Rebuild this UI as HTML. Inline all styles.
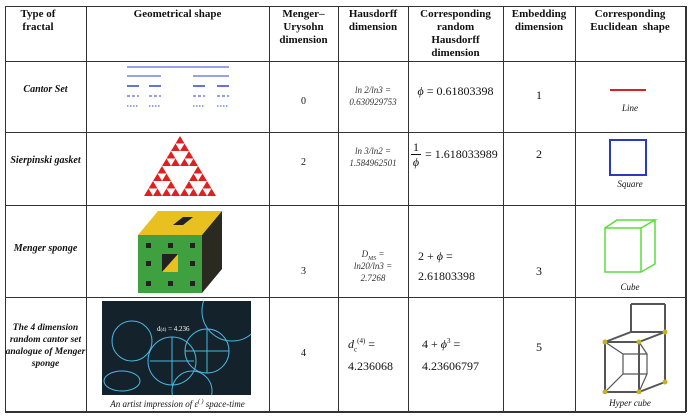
<!DOCTYPE html>
<html><head><meta charset="utf-8"><style>
body{margin:0;width:690px;height:417px;background:#fff;position:relative;overflow:hidden;font-family:"Liberation Serif",serif;color:#111}
.v{position:absolute;width:1px;background:#333;top:6px;height:406px}
.h{position:absolute;height:1px;background:#333;left:5px;width:681px}
.t{position:absolute;text-align:center;font-size:11px;line-height:13px}
.b{font-weight:bold}
.i{font-style:italic}
sub,sup{line-height:0}
</style></head><body>
<div class="h" style="top:6px"></div><div class="h" style="top:61px"></div><div class="h" style="top:132px"></div><div class="h" style="top:205px"></div><div class="h" style="top:297px"></div><div class="h" style="top:411px;height:2px"></div>
<div class="v" style="left:5px"></div><div class="v" style="left:86px"></div><div class="v" style="left:269px"></div><div class="v" style="left:338px"></div><div class="v" style="left:408px"></div><div class="v" style="left:503px"></div><div class="v" style="left:575px"></div><div class="v" style="left:685px;width:2px"></div>

<div class="t b" style="left:5px;top:8px;width:66px">Type of<br>fractal</div>
<div class="t b" style="left:86px;top:8px;width:183px">Geometrical shape</div>
<div class="t b" style="left:269px;top:8px;width:69px">Menger–<br>Urysohn<br>dimension</div>
<div class="t b" style="left:338px;top:8px;width:70px">Hausdorff<br>dimension</div>
<div class="t b" style="left:408px;top:8px;width:95px">Corresponding<br>random<br>Hausdorff<br>dimension</div>
<div class="t b" style="left:503px;top:8px;width:72px">Embedding<br>dimension</div>
<div class="t b" style="left:575px;top:8px;width:110px">Corresponding<br>Euclidean&nbsp; shape</div>

<!-- Cantor -->
<div class="t b i" style="left:5px;top:83px;width:81px;font-size:10px">Cantor Set</div>
<svg style="position:absolute;left:125px;top:64px" width="110" height="46">
<g stroke="#3344cc"><line x1="2" y1="3" x2="104" y2="3" stroke-width="1"/>
<line x1="2" y1="12" x2="36" y2="12"/><line x1="68" y1="12" x2="104" y2="12"/>
<g stroke-width="1.5"><line x1="2" y1="22" x2="14" y2="22"/><line x1="24" y1="22" x2="36" y2="22"/><line x1="68" y1="22" x2="80" y2="22"/><line x1="92" y1="22" x2="104" y2="22"/></g>
<g stroke-dasharray="3,2"><line x1="2" y1="32" x2="14" y2="32"/><line x1="24" y1="32" x2="36" y2="32"/><line x1="68" y1="32" x2="80" y2="32"/><line x1="92" y1="32" x2="104" y2="32"/></g>
<g stroke-dasharray="1.5,1.5"><line x1="2" y1="42" x2="14" y2="42"/><line x1="24" y1="42" x2="36" y2="42"/><line x1="68" y1="42" x2="80" y2="42"/><line x1="92" y1="42" x2="104" y2="42"/></g></g></svg>
<div class="t" style="left:269px;top:95px;width:69px;font-size:10px">0</div>
<div class="t i" style="left:338px;top:84px;width:70px;font-size:9px;line-height:12px;color:#333">ln 2/ln3 =<br>0.630929753</div>
<div class="t" style="left:408px;top:85px;width:95px;font-size:12px"><i>ϕ</i> = 0.61803398</div>
<div class="t" style="left:503px;top:89px;width:72px;font-size:12px">1</div>
<div style="position:absolute;left:610px;top:89px;width:36px;height:2px;background:#e02020"></div>
<div class="t i" style="left:575px;top:102px;width:110px;font-size:9px">Line</div>

<!-- Sierpinski -->
<div class="t b i" style="left:5px;top:154px;width:81px;font-size:10px">Sierpinski gasket</div>
<svg style="position:absolute;left:144px;top:136px" width="72" height="60">
<defs><polygon id="s" points="4.5,0 9,7.5 0,7.5" fill="#e02020"/></defs>
<use href="#s" x="31.5" y="0"/>
<use href="#s" x="27" y="7.5"/><use href="#s" x="36" y="7.5"/>
<use href="#s" x="22.5" y="15"/><use href="#s" x="40.5" y="15"/>
<use href="#s" x="18" y="22.5"/><use href="#s" x="27" y="22.5"/><use href="#s" x="36" y="22.5"/><use href="#s" x="45" y="22.5"/>
<use href="#s" x="13.5" y="30"/><use href="#s" x="49.5" y="30"/>
<use href="#s" x="9" y="37.5"/><use href="#s" x="18" y="37.5"/><use href="#s" x="45" y="37.5"/><use href="#s" x="54" y="37.5"/>
<use href="#s" x="4.5" y="45"/><use href="#s" x="22.5" y="45"/><use href="#s" x="40.5" y="45"/><use href="#s" x="58.5" y="45"/>
<use href="#s" x="0" y="52.5"/><use href="#s" x="9" y="52.5"/><use href="#s" x="18" y="52.5"/><use href="#s" x="27" y="52.5"/><use href="#s" x="36" y="52.5"/><use href="#s" x="45" y="52.5"/><use href="#s" x="54" y="52.5"/><use href="#s" x="63" y="52.5"/>
</svg>
<div class="t" style="left:269px;top:156px;width:69px;font-size:10px">2</div>
<div class="t i" style="left:338px;top:145px;width:70px;font-size:9px;line-height:12px;color:#333">ln 3/ln2 =<br>1.584962501</div>
<div style="position:absolute;left:411px;top:140px;font-size:12px;text-align:center;line-height:14px">1<div style="border-top:1px solid #111;width:10px"></div><i>ϕ</i></div>
<div class="t" style="left:425px;top:148px;font-size:12px;text-align:left">= 1.618033989</div>
<div class="t" style="left:503px;top:148px;width:72px;font-size:12px">2</div>
<div style="position:absolute;left:609px;top:139px;width:34px;height:33px;border:2px solid #2a3ac0"></div>
<div class="t i" style="left:575px;top:178px;width:110px;font-size:9px">Square</div>

<!-- Menger -->
<div class="t b i" style="left:5px;top:242px;width:81px;font-size:10px">Menger sponge</div>
<svg style="position:absolute;left:138px;top:209px" width="86" height="86">
<polygon points="0,26 20,2 84,2 64,26" fill="#e8c020"/>
<polygon points="64,26 84,2 84,60 64,84" fill="#2a2a20"/>
<rect x="0" y="26" width="64" height="58" fill="#3fa040"/>
<g fill="#222"><rect x="24" y="45" width="16" height="18"/><rect x="8" y="34" width="5" height="5"/><rect x="30" y="34" width="5" height="5"/><rect x="52" y="34" width="5" height="5"/><rect x="8" y="52" width="5" height="5"/><rect x="52" y="52" width="5" height="5"/><rect x="8" y="72" width="5" height="5"/><rect x="30" y="72" width="5" height="5"/><rect x="52" y="72" width="5" height="5"/>
<polygon points="35,16 45,8 55,8 45,16"/></g>
<g fill="#e8c020"><polygon points="24,63 40,45 40,63"/></g>
</svg>
<div class="t" style="left:269px;top:265px;width:69px;font-size:10px">3</div>
<div class="t i" style="left:338px;top:248px;width:70px;font-size:9px;line-height:12px;color:#333">D<sub style="font-size:6px">MS</sub> =<br>ln20/ln3 =<br>2.7268</div>
<div class="t" style="left:418px;top:246px;font-size:12px;text-align:left;line-height:20px">2 + <i>ϕ</i> =<br>2.61803398</div>
<div class="t" style="left:503px;top:265px;width:72px;font-size:12px">3</div>
<svg style="position:absolute;left:603px;top:218px" width="56" height="60"><g fill="none" stroke="#5cdc3c" stroke-width="1.5"><rect x="2" y="10" width="36" height="44"/><path d="M2,10 L14,2 L52,2 L38,10 M52,2 L52,46 L38,54"/></g></svg>
<div class="t i" style="left:575px;top:281px;width:110px;font-size:9px">Cube</div>

<!-- 4D -->
<div class="t b i" style="left:5px;top:322px;width:81px;font-size:9.5px;line-height:12px">The 4 dimension random cantor set analogue of Menger sponge</div>
<svg style="position:absolute;left:102px;top:301px" width="149" height="94">
<rect width="149" height="94" fill="#14222c"/>
<g fill="none" stroke="#4ab8e0" stroke-width="1"><circle cx="105" cy="50" r="22"/><circle cx="70" cy="60" r="24"/><circle cx="130" cy="10" r="30"/><circle cx="30" cy="40" r="20"/><circle cx="90" cy="90" r="20"/><ellipse cx="20" cy="80" rx="18" ry="10"/><path d="M48,60 h44 M70,36 v48 M83,50 h44 M105,28 v44"/></g>
<text x="55" y="30" fill="#fff" font-size="7" font-family="Liberation Serif">d<tspan font-size="5">(4)</tspan> = 4.236</text>
</svg>
<div class="t i" style="left:86px;top:398px;width:183px;font-size:9px">An artist impression of <i>ε</i><sup style="font-size:6px">( )</sup> space-time</div>
<div class="t" style="left:269px;top:347px;width:69px;font-size:10px">4</div>
<div class="t" style="left:348px;top:333px;font-size:12px;text-align:left;line-height:22px"><i>d</i><sub style="font-size:7px">c</sub><sup style="font-size:7px">(4)</sup> =<br>4.236068</div>
<div class="t" style="left:422px;top:333px;font-size:12px;text-align:left;line-height:22px">4 + <i>ϕ</i><sup style="font-size:7px">3</sup> =<br>4.23606797</div>
<div class="t" style="left:503px;top:341px;width:72px;font-size:12px">5</div>
<svg style="position:absolute;left:595px;top:302px" width="76" height="92"><g fill="none" stroke="#555" stroke-width="2"><path d="M10,40 L36,30 L70,30 L70,80 L44,90 L10,90 Z M10,40 L44,40 L70,30 M44,40 L44,90"/><path d="M28,52 L52,52 L52,72 L28,72 Z M10,40 L28,52 M44,40 L52,52 M44,90 L52,72 M10,90 L28,72" stroke-width="1.2"/><path d="M36,30 L36,2 M70,30 L70,2 M36,2 L70,2"/></g><g fill="#c8b020"><circle cx="10" cy="40" r="2.5"/><circle cx="44" cy="40" r="2.5"/><circle cx="70" cy="30" r="2.5"/><circle cx="70" cy="80" r="2.5"/><circle cx="44" cy="90" r="2.5"/><circle cx="10" cy="90" r="2.5"/></g></svg>
<div class="t i" style="left:575px;top:397px;width:110px;font-size:9px">Hyper cube</div>
</body></html>
